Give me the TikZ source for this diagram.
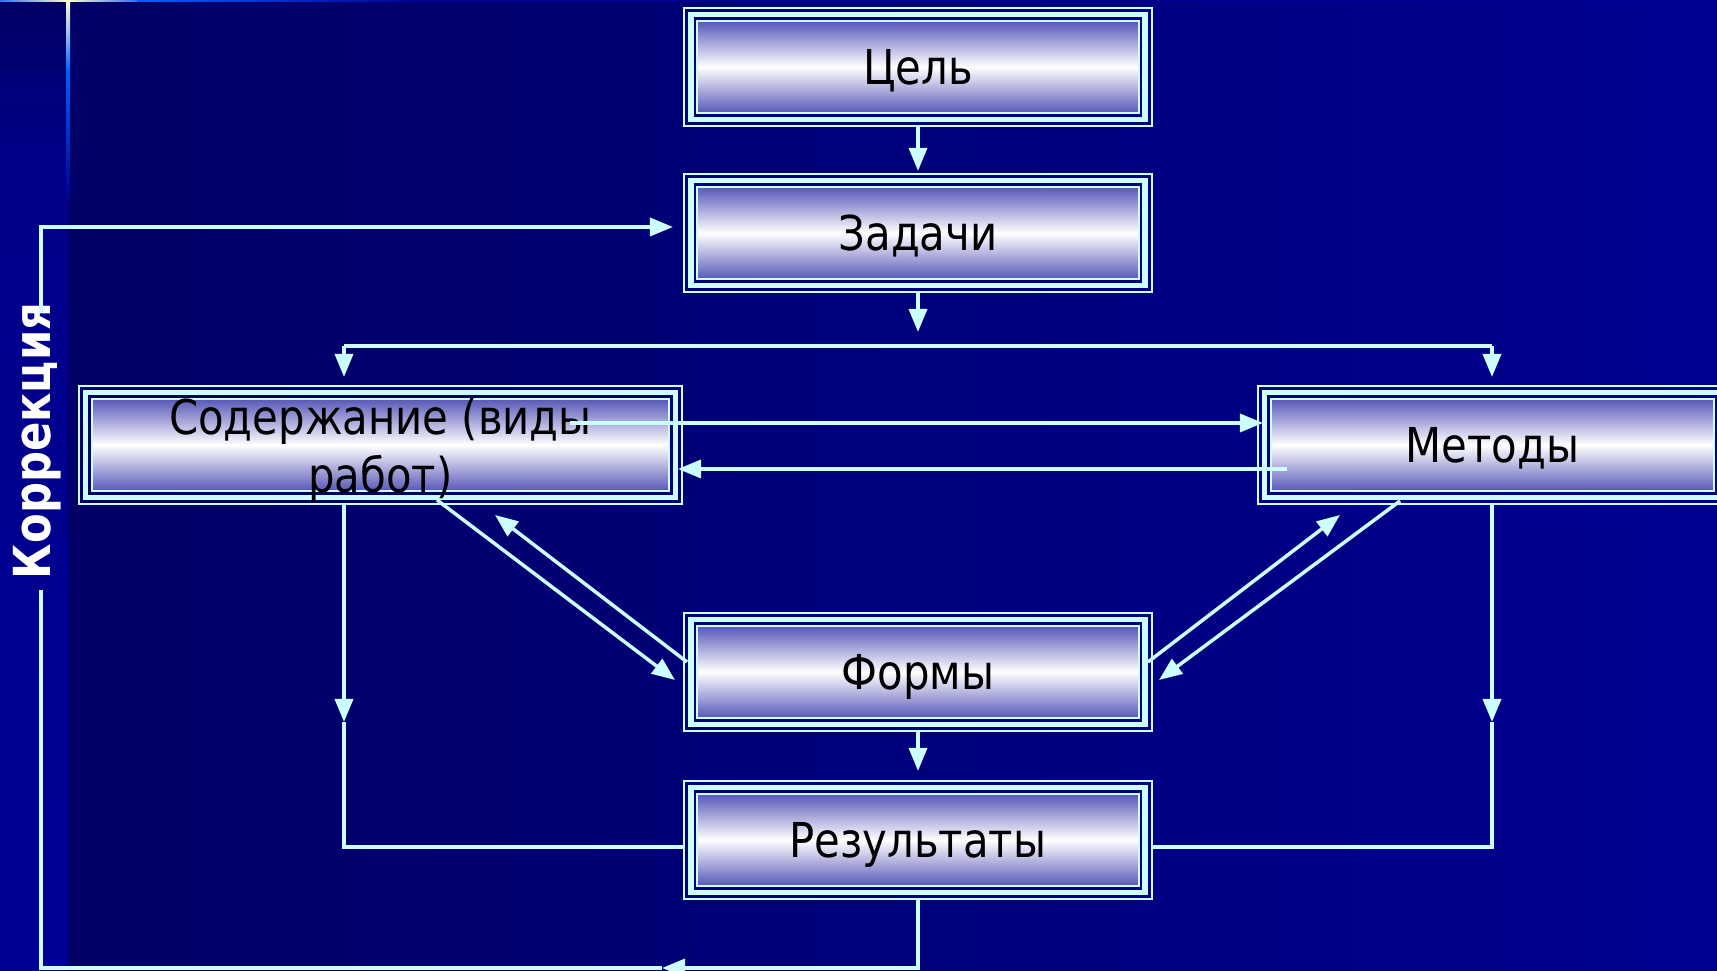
\documentclass[tikz,border=0pt]{standalone}
\usepackage{fontspec}
\setmainfont{DejaVu Sans}[FakeStretch=0.87]
\newfontfamily\sidefont{DejaVu Sans}[FakeStretch=0.85]
\usetikzlibrary{arrows.meta}

\definecolor{edge}{RGB}{204,255,255}
\definecolor{bgA}{RGB}{0,0,102}
\definecolor{bgB}{RGB}{0,0,145}
\definecolor{stripA}{RGB}{0,0,138}
\definecolor{stripB}{RGB}{0,0,150}
\definecolor{boxblue}{RGB}{40,40,165}
\definecolor{glow}{RGB}{255,255,208}
\definecolor{skyline}{RGB}{48,112,240}
\definecolor{brightblue}{RGB}{0,96,255}

\begin{document}
\begin{tikzpicture}[x=0.01cm,y=-0.01cm,
  stage/.style={minimum width=#1, minimum height=1.18cm, inner sep=0pt,
    draw=edge, line width=0.02cm, text=black,
    font=\fontsize{13.66pt}{16.5pt}\selectfont,
    path picture={
      \shade[top color=boxblue, bottom color=boxblue, middle color=white]
        ([shift={(0.13cm,-0.13cm)}]path picture bounding box.north west) rectangle
        ([shift={(-0.13cm,0.13cm)}]path picture bounding box.south east);
      \draw[edge, line width=0.055cm]
        ([shift={(0.0675cm,-0.0675cm)}]path picture bounding box.north west) rectangle
        ([shift={(-0.0675cm,0.0675cm)}]path picture bounding box.south east);
      \draw[edge, line width=0.02cm]
        ([shift={(0.13cm,-0.13cm)}]path picture bounding box.north west) rectangle
        ([shift={(-0.13cm,0.13cm)}]path picture bounding box.south east);
    }},
  oneline/.style={text height=10pt, text depth=0pt},
  twoline/.style={text height=22pt, text depth=10.6pt},
  link/.style={draw=edge, line width=0.035cm},
  arr/.style={link, -{Triangle[length=0.23cm,width=0.18cm]}}
]
\useasboundingbox (0,0) rectangle (1717,971);
\clip (0,0) rectangle (1717,971);

% background: main field and left strip
\shade[left color=bgA, right color=bgB] (68,0) rectangle (1717,971);
\shade[top color=bgA, bottom color=stripA] (0,0) rectangle (68,160);
\shade[top color=stripA, bottom color=stripB] (0,160) rectangle (68,971);

% glowing rules along the top and the strip edge
\shade[left color=skyline, right color=glow] (0,0) rectangle (68,2);
\shade[left color=glow, right color=skyline] (68,0) rectangle (137,2);
\shade[left color=brightblue, right color=bgB] (137,0) rectangle (420,2);
\fill[bgB] (420,0) rectangle (1717,2);
\shade[top color=glow, bottom color=brightblue, middle color={rgb,255:red,150;green,185;blue,240}] (66,0) rectangle (70,70);
\shade[top color=brightblue, bottom color=stripA] (66,70) rectangle (70,200);

% stages
\node[stage=4.67cm, oneline] (cel) at (918,67) {Цель};
\node[stage=4.67cm, oneline] (zad) at (918,233) {Задачи};
\node[stage=6.03cm, twoline] (sod) at (380.5,445)
  {\begin{tabular}{@{}c@{}}Содержание (виды\\работ)\end{tabular}};
\node[stage=4.69cm, oneline] (met) at (1492.5,445) {Методы};
\node[stage=4.67cm, oneline] (frm) at (918,672) {Формы};
\node[stage=4.67cm, oneline] (res) at (918,840) {Результаты};

\node[text=white, rotate=90, inner sep=0pt,
  font=\sidefont\bfseries\fontsize{14.5pt}{17pt}\selectfont] (kor) at (37.5,441) {Коррекция};

% junction points
\coordinate (zt) at (918,332);
\coordinate (busL) at (344,346);
\coordinate (busR) at (1492,346);
\coordinate (sodIn) at (344,377);
\coordinate (metIn) at (1492,377);
\coordinate (s2m) at (570,423);
\coordinate (s2mEnd) at (1263,423);
\coordinate (m2s) at (1287,469);
\coordinate (m2sEnd) at (678,469);
\coordinate (sfA) at (437,500);
\coordinate (sfB) at (675,680);
\coordinate (fsA) at (687,662);
\coordinate (fsB) at (495,515);
\coordinate (fmA) at (1148,662);
\coordinate (fmB) at (1340,515);
\coordinate (mfA) at (1400,501);
\coordinate (mfB) at (1159,680);
\coordinate (lmid) at (344,722);
\coordinate (rmid) at (1492,722);
\coordinate (resIn) at (918,771);
\coordinate (fbArr) at (662,968);
\coordinate (kLow) at (41,590);
\coordinate (kHigh) at (41,313);
\coordinate (zIn) at (673,227);

% connectors
\draw[arr, shorten >=0.02cm] (cel.south) -- (zad.north);
\draw[arr] (zad.south) -- (zt);
\draw[link] (busL) -- (busR);
\draw[arr] (busL) -- (sodIn);
\draw[arr] (busR) -- (metIn);
\draw[arr] (s2m) -- (s2mEnd);
\draw[arr] (m2s) -- (m2sEnd);
\draw[arr] (sfA) -- (sfB);
\draw[arr] (fsA) -- (fsB);
\draw[arr] (fmA) -- (fmB);
\draw[arr] (mfA) -- (mfB);
\draw[arr] (sod.south -| lmid) -- (lmid);
\draw[link] (lmid) |- ([yshift=-0.07cm]res.west);
\draw[arr] (met.south -| rmid) -- (rmid);
\draw[link] (rmid) |- ([yshift=-0.07cm]res.east);
\draw[arr] (frm.south) -- (resIn);
\draw[arr] (res.south) |- (fbArr);
\draw[link] (fbArr) -| (kLow);
\draw[arr] (kHigh) |- (zIn);
\end{tikzpicture}
\end{document}
